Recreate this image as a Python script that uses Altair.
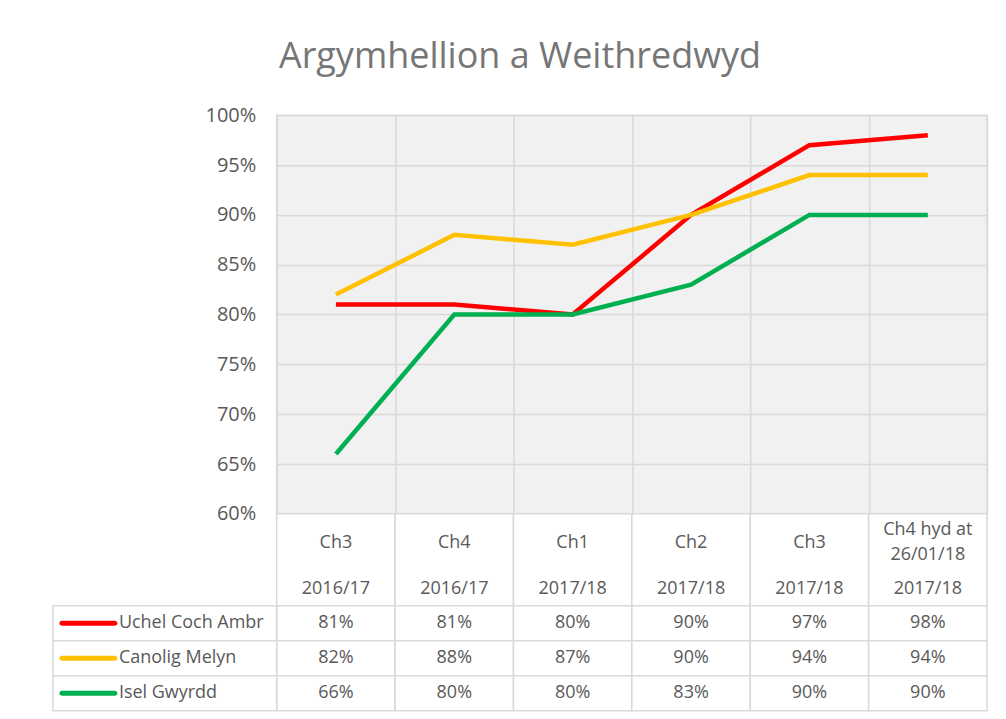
import altair as alt
import pandas as pd

# ---- data ----
quarters = ["Ch3", "Ch4", "Ch1", "Ch2", "Ch3", "Ch4 hyd at\n26/01/18"]
years = ["2016/17", "2016/17", "2017/18", "2017/18", "2017/18", "2017/18"]
series_names = ["Uchel Coch Ambr", "Canolig Melyn", "Isel Gwyrdd"]
uchel = [81, 81, 80, 90, 97, 98]
canolig = [82, 88, 87, 90, 94, 94]
isel = [66, 80, 80, 83, 90, 90]
series_colors = ["#FF0000", "#FFC000", "#00B050"]
y_ticks = [0.60, 0.65, 0.70, 0.75, 0.80, 0.85, 0.90, 0.95, 1.00]

keys = [f"{q.replace(chr(10), ' ')} {y}" for q, y in zip(quarters, years)]

rows = []
for name, vals in zip(series_names, [uchel, canolig, isel]):
    for k, v in zip(keys, vals):
        rows.append({"key": k, "series": name, "value": v / 100})
df = pd.DataFrame(rows)
hdr_df = pd.DataFrame({"key": keys, "quarter": quarters, "year": years})

GRID = "#d9d9d9"
TXT = "#595959"
FONT = "Open Sans"
W = 711
FS = 18

color_enc = alt.Color("series:N", scale=alt.Scale(domain=series_names, range=series_colors), legend=None)
band_scale = alt.Scale(type="band", domain=keys, paddingInner=0, paddingOuter=0)

# ---- line chart ----
top = alt.Chart(df).mark_line(strokeWidth=4.5).encode(
    x=alt.X("key:N", sort=keys, scale=band_scale, bandPosition=0.5,
            axis=alt.Axis(title=None, labels=False, ticks=False, domain=False, grid=True,
                          tickBand="extent", gridColor=GRID, gridWidth=1.5)),
    y=alt.Y("value:Q", scale=alt.Scale(domain=[0.6, 1.0], nice=False),
            axis=alt.Axis(title=None, values=y_ticks, format=".0%", domain=False, ticks=False,
                          labelFontSize=20, labelColor=TXT, labelPadding=21,
                          gridColor=GRID, gridWidth=1.5)),
    color=color_enc,
    order=alt.Order("key_order:Q"),
).transform_calculate(
    key_order="indexof(" + str(keys) + ", datum.key)"
).properties(width=W, height=399, view=alt.ViewBackground(fill="#f1f1f1", stroke=GRID, strokeWidth=1.5))

# ---- table header ----
hx = alt.X("key:N", sort=keys, scale=band_scale, axis=None)
hx_c = alt.X("key:N", sort=keys, scale=band_scale, axis=None, bandPosition=0.5)
h_cells = alt.Chart(hdr_df).mark_rect(fill="white", stroke=GRID, strokeWidth=1.5).encode(
    x=hx, y=alt.value(0), y2=alt.value(92))
h_q = alt.Chart(hdr_df).transform_calculate(
    qy="29 - (length(split(datum.quarter, '\\n')) - 1) * 12.5"
).mark_text(fontSize=FS, color=TXT, lineBreak="\n", lineHeight=25, baseline="middle").encode(
    x=hx_c, y=alt.Y("qy:Q", scale=None, axis=None), text="quarter:N")
h_y = alt.Chart(hdr_df).mark_text(fontSize=FS, color=TXT, baseline="middle").encode(
    x=hx_c, y=alt.value(75), text="year:N")
header = alt.layer(h_cells, h_q, h_y).properties(
    width=W, height=92, view=alt.ViewBackground(stroke=None))

# ---- table body ----
row_scale = alt.Scale(type="band", domain=series_names, paddingInner=0, paddingOuter=0)
by = alt.Y("series:N", sort=series_names, scale=row_scale, axis=None)
by_c = alt.Y("series:N", sort=series_names, scale=row_scale, axis=None, bandPosition=0.5)

b_cells = alt.Chart(df).mark_rect(fill="white", stroke=GRID, strokeWidth=1.5).encode(x=hx, y=by)
b_vals = alt.Chart(df).mark_text(fontSize=FS, color=TXT, baseline="middle").encode(
    x=hx_c, y=by_c, text=alt.Text("value:Q", format=".0%"))
leg_df = pd.DataFrame({"series": series_names})
b_left = alt.Chart(leg_df).mark_rect(fill="white", stroke=GRID, strokeWidth=1.5).encode(
    x=alt.value(-224), x2=alt.value(0), y=by)
b_swatch = alt.Chart(leg_df).mark_rule(strokeWidth=5, strokeCap="round").encode(
    x=alt.value(-215), x2=alt.value(-162), y=by_c, color=color_enc)
b_label = alt.Chart(leg_df).mark_text(fontSize=FS, color=TXT, align="left", baseline="middle").encode(
    x=alt.value(-158), y=by_c, text="series:N")
body = alt.layer(b_cells, b_left, b_vals, b_swatch, b_label).properties(
    width=W, height=105, view=alt.ViewBackground(stroke=None))

chart = alt.vconcat(top, header, body, spacing=0, bounds="flush").resolve_scale(
    x="independent", y="independent"
).properties(
    title=alt.TitleParams("Argymhellion a Weithredwyd", fontSize=36, font=FONT, color="#767676",
                          fontWeight="normal", anchor="middle", offset=29),
    padding={"left": 44, "top": 30, "right": 10, "bottom": 2},
    background="white",
).configure_axis(labelFont=FONT).configure_text(font=FONT).configure_concat(spacing=0)

chart.save("out.html", embed_options={"renderer": "svg", "actions": False})
